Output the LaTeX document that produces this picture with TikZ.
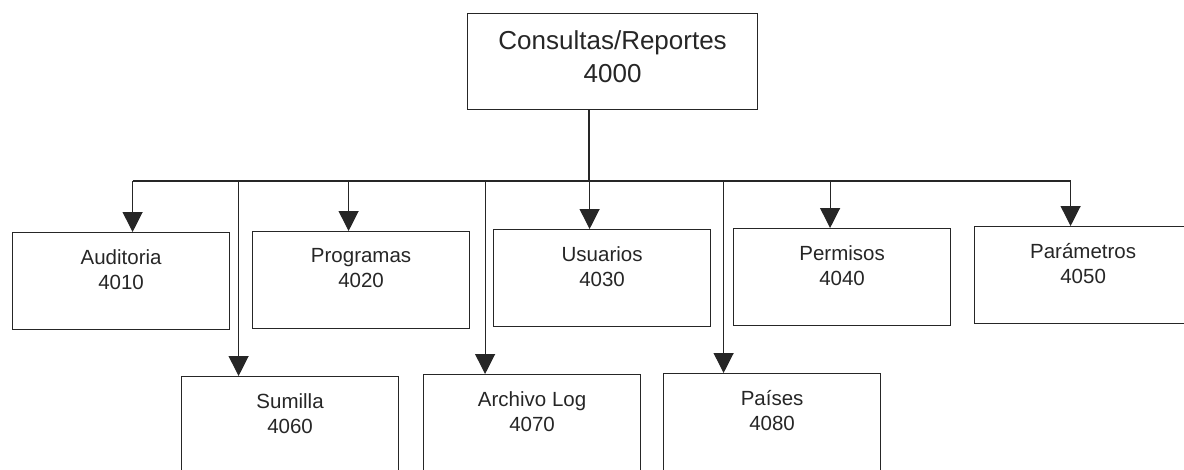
\documentclass[tikz,border=0pt]{standalone}
\usepackage{fontspec}
\setmainfont{Liberation Sans}
\usetikzlibrary{positioning,arrows.meta}
\definecolor{tinta}{gray}{0.15}

\tikzset{
  caja/.style={draw=tinta, line width=1.2pt, anchor=north west,
    minimum width=217pt, minimum height=97pt, inner sep=0pt},
  texto/.style={text=tinta, align=center, inner sep=0pt, anchor=north,
    font=\fontsize{20.5pt}{25pt}\selectfont},
  linea/.style={draw=tinta, line width=1.2pt},
  flecha/.style={linea, -{Triangle[length=20pt,width=20pt]}}
}

\begin{document}
\begin{tikzpicture}[x=1pt, y=-1pt]
  \useasboundingbox (0,0) rectangle (1184,469);
  % raiz
  \node[caja, minimum width=290pt, minimum height=96pt] (top) at (467,13) {};
  \node[texto, font=\fontsize{26pt}{33pt}\selectfont, below=17pt of top.north]
    (top-t) {Consultas/Reportes\\4000};
  % primera fila
  \node[caja] (aud) at (12,232) {};
  \node[caja] (pro) at (252,231) {};
  \node[caja] (usu) at (493,229) {};
  \node[caja] (per) at (733,228) {};
  \node[caja] (par) at (974,226) {};
  % segunda fila
  \node[caja] (sum) at (181,376) {};
  \node[caja] (arc) at (423,374) {};
  \node[caja] (pai) at (663,373) {};
  % textos
  \node[texto, below=17pt of aud.north] (aud-t) {Auditoria\\4010};
  \node[texto, below=17pt of pro.north] (pro-t) {Programas\\4020};
  \node[texto, below=17pt of usu.north] (usu-t) {Usuarios\\4030};
  \node[texto, below=17pt of per.north] (per-t) {Permisos\\4040};
  \node[texto, below=17pt of par.north] (par-t) {Parámetros\\4050};
  \node[texto, below=17pt of sum.north] (sum-t) {Sumilla\\4060};
  \node[texto, below=17pt of arc.north] (arc-t) {Archivo Log\\4070};
  \node[texto, below=17pt of pai.north] (pai-t) {Países\\4080};
  % conectores
  \coordinate (bus) at (589,181);
  \draw[linea] (top.south -| bus) -- (bus);
  \draw[linea] ([xshift=11.5pt]bus -| aud.north) -- ([xshift=-12.5pt]bus -| par.north);
  \foreach \n/\d in {aud/11.5, pro/-12.5, usu/-12.5, per/-12, par/-12.5,
                     sum/-51.5, arc/-47, pai/-48.5}
    \draw[flecha] ([xshift=\d pt]bus -| \n.north) -- ([xshift=\d pt]\n.north);
\end{tikzpicture}
\end{document}
